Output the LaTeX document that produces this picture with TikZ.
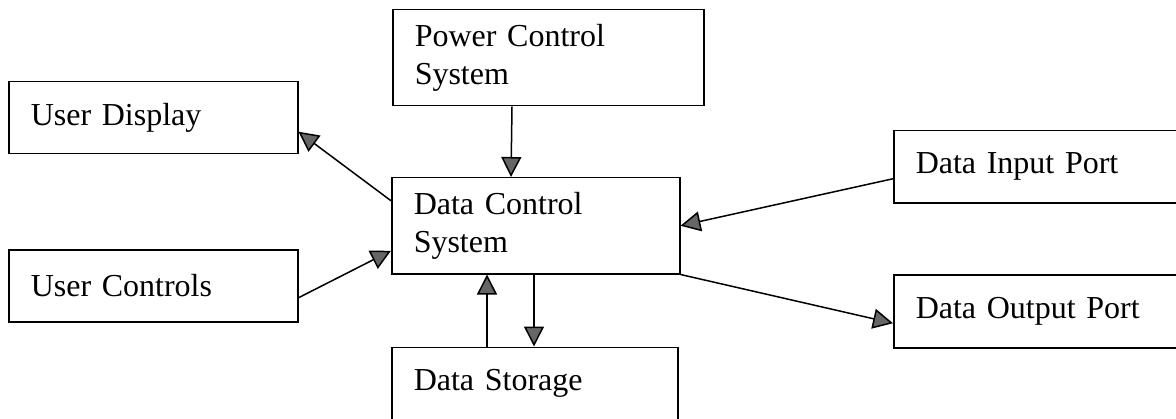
\documentclass[tikz,border=0pt]{standalone}
\usepackage{fontspec}
\setmainfont{Liberation Serif}[WordSpace=0.8]
\usepackage{tikz}
\usetikzlibrary{positioning,arrows.meta}

\begin{document}
\begin{tikzpicture}[x=0.5pt,y=0.5pt,
    line width=0.75pt,
    >={Triangle[length=10pt,width=10pt,fill=black!60]},
    blk/.style={draw,rectangle,anchor=north west,align=left,
      inner xsep=11pt,inner ysep=0pt,
      font=\fontsize{16pt}{19pt}\selectfont}]

  \clip (0,0) rectangle (1176,418);

  \node[blk] (ctrl) at (391,241) [text width=122pt,minimum height=48pt] {Data Control\\System};
  \node[blk] (power) at (392,409) [text width=133.5pt,minimum height=48pt] {Power Control\\System};
  \node[blk] (disp) at (8,337) [text width=122.5pt,minimum height=36pt] {User Display};
  \node[blk] (ctls) at (8,169) [text width=122.5pt,minimum height=36pt] {User Controls};
  \node[blk] (inport) at (893,288) [text width=128pt,minimum height=36pt] {Data Input Port};
  \node[blk] (outport) at (893,144) [text width=128pt,minimum height=36.5pt] {Data Output Port};
  \node[blk] (store) [below right=36pt and 0pt of ctrl.south west,text width=121pt,minimum height=36pt] {Data Storage};

  \path[->] ([xshift=60pt]power.south west) edge ([xshift=60pt]ctrl.north west);
  \path[->] ([yshift=12.5pt]ctrl.west) edge ([yshift=-7pt]disp.east);
  \path[->] ([yshift=-6pt]ctls.east) edge ([yshift=-12.5pt]ctrl.west);
  \path[->] ([yshift=-6pt]inport.west) edge (ctrl.east);
  \path[->] (ctrl.south east) edge ([yshift=-6pt]outport.west);
  \path[->] ([xshift=48pt]store.north west) edge ([xshift=48pt]ctrl.south west);
  \path[->] ([xshift=71.5pt]ctrl.south west) edge ([xshift=71.5pt]store.north west);

\end{tikzpicture}
\end{document}
